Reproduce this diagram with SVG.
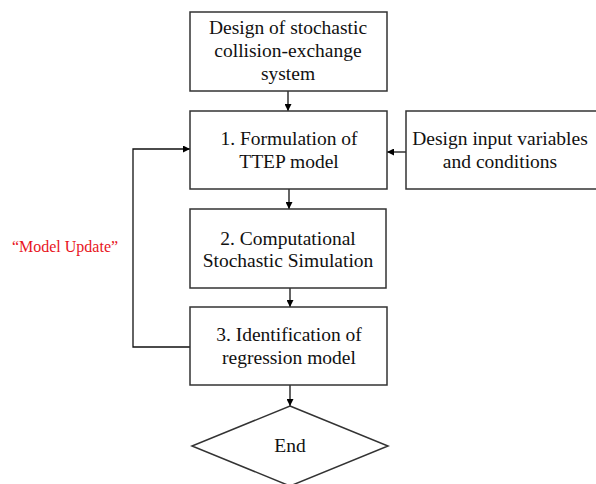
<svg xmlns="http://www.w3.org/2000/svg" width="596" height="484" viewBox="0 0 596 484">
<defs>
<marker id="ah" viewBox="0 0 10 10" refX="10" refY="5" markerWidth="7" markerHeight="7" markerUnits="userSpaceOnUse" orient="auto">
<path d="M0,0 L10,5 L0,10 z" fill="#000"/>
</marker>
<style>
.box{fill:#fff;stroke:#333;stroke-width:1.5}
.t{font-family:"Liberation Serif",serif;font-size:19.5px;fill:#111;text-anchor:middle}
.c{fill:none;stroke:#111;stroke-width:1.3;marker-end:url(#ah)}
.red{font-family:"Liberation Serif",serif;font-size:16px;fill:#e8141c;text-anchor:middle}
</style>
</defs>
<rect width="596" height="484" fill="#fff"/>
<g id="connectors">
<path class="c" d="M288,91 V111"/>
<path class="c" d="M406,152 H387"/>
<path class="c" d="M289,189 V209"/>
<path class="c" d="M290,288 V307"/>
<path class="c" d="M290,385 V406"/>
<path class="c" d="M190,347 H133 V149 H190"/>
</g>
<g id="n0"><rect class="box" x="190" y="12" width="197" height="79"/>
<text class="t" x="288" y="34">Design of stochastic</text>
<text class="t" x="288" y="57">collision-exchange</text>
<text class="t" x="288" y="80">system</text></g>
<g id="n1"><rect class="box" x="190" y="111" width="197" height="78"/>
<text class="t" x="289" y="145">1. Formulation of</text>
<text class="t" x="289" y="168">TTEP model</text></g>
<g id="n2"><rect class="box" x="406" y="111" width="192" height="78"/>
<text class="t" x="500" y="145">Design input variables</text>
<text class="t" x="500" y="168">and conditions</text></g>
<g id="n3"><rect class="box" x="190" y="209" width="196" height="79"/>
<text class="t" x="288" y="245">2. Computational</text>
<text class="t" x="288" y="267">Stochastic Simulation</text></g>
<g id="n4"><rect class="box" x="190" y="307" width="197" height="78"/>
<text class="t" x="289" y="341">3. Identification of</text>
<text class="t" x="289" y="364">regression model</text></g>
<g id="n5"><path class="box" d="M290,406 L388,446 L290,486 L192,446 Z"/>
<text class="t" x="290" y="452">End</text></g>
<g id="label"><text class="red" x="65" y="252">“Model Update”</text></g>
</svg>
